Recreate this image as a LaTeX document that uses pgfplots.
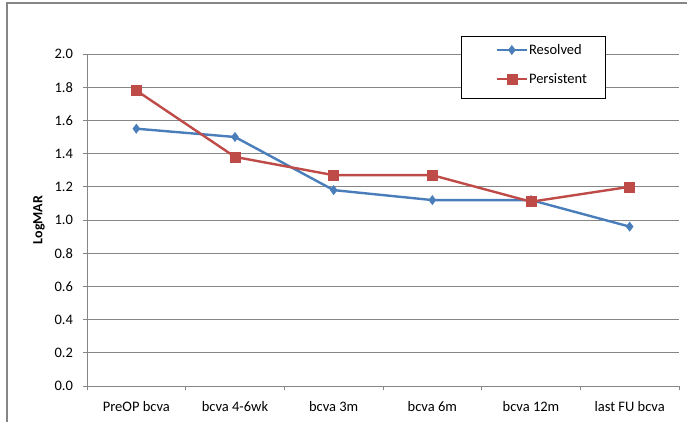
\documentclass[border=0pt]{standalone}
\usepackage{pgfplots}
\pgfplotsset{compat=1.18}
\usepackage{fontspec}
\setmainfont{Carlito}
\definecolor{resblue}{HTML}{4A7EBB}
\definecolor{perred}{HTML}{BE4B48}
\definecolor{gridgray}{HTML}{868686}
\begin{document}
\begin{tikzpicture}[x=1pt,y=1pt]
\useasboundingbox (0,0) rectangle (687,422);
% chart area frame
\draw[gridgray, line width=1.2pt] (7,-2) -- (7,419) -- (690,419);
\begin{axis}[
  at={(87pt,36pt)}, anchor=south west,
  scale only axis, width=592pt, height=332pt,
  xmin=-0.5, xmax=5.5, ymin=0, ymax=2,
  axis x line*=bottom, axis y line*=left,
  axis line style={gridgray, line width=0.9pt},
  xtick={0,...,5},
  xticklabels={PreOP bcva, bcva 4-6wk, bcva 3m, bcva 6m, bcva 12m, last FU bcva},
  minor xtick={-0.5,0.5,...,5.5},
  major x tick style={draw=none},
  minor x tick style={gridgray, line width=0.9pt},
  ytick={0,0.2,...,2.01},
  y tick style={gridgray, line width=0.9pt},
  tick align=outside, major tick length=4.5pt, minor tick length=4.5pt,
  ymajorgrids, major grid style={gridgray, line width=0.9pt},
  yticklabel style={xshift=-6pt, /pgf/number format/.cd, fixed, fixed zerofill, precision=1},
  xticklabel style={yshift=-7pt},
  /pgf/number format/assume math mode=true,
  tick label style={font=\fontsize{14.5}{17}\selectfont, text=black},
  ylabel={LogMAR},
  ylabel style={font=\fontsize{14}{16}\selectfont\bfseries, at={(axis description cs:-0.081,0.5)}, anchor=center},
  legend style={at={(0.632,1.055)}, anchor=north west, draw=black, line width=1pt,
    inner xsep=0pt, inner ysep=7pt, row sep=10pt,
    font=\fontsize{14.5}{17}\selectfont,
    nodes={inner sep=1pt}},
  legend cell align=left,
  legend image code/.code={
    \path (-34pt,-11pt) (0pt,0pt);
    \draw[mark repeat=2, mark phase=2] plot coordinates {(0pt,0pt) (15pt,0pt) (30pt,0pt)};
  },
  legend entries={Resolved, Persistent\hspace*{17pt}},
  clip=false,
]
\addplot[resblue, line width=2.4pt, mark=diamond*, mark size=4.6pt, mark options={solid, line width=0.5pt}]
  coordinates {(0,1.55) (1,1.50) (2,1.18) (3,1.12) (4,1.12) (5,0.96)};
\addplot[perred, line width=2.4pt, mark=square*, mark size=5pt, mark options={solid, line width=0.5pt}]
  coordinates {(0,1.78) (1,1.38) (2,1.27) (3,1.27) (4,1.11) (5,1.20)};
\end{axis}
\end{tikzpicture}
\end{document}
